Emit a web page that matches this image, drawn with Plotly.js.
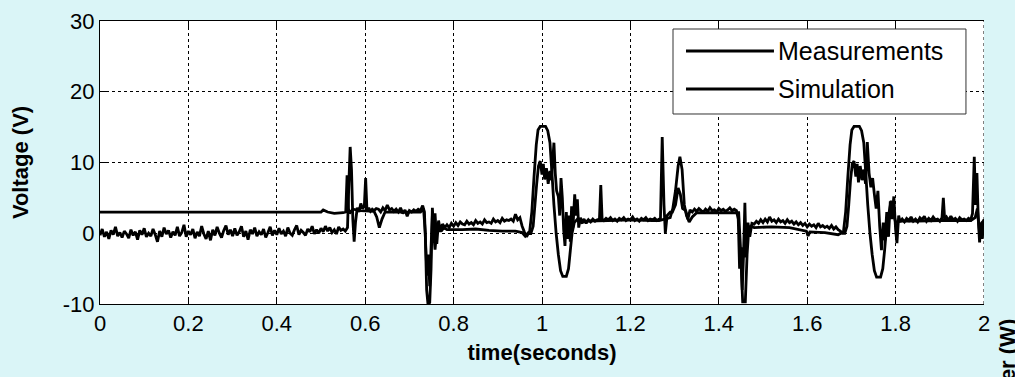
<!DOCTYPE html>
<html>
<head>
<meta charset="utf-8">
<script src="https://cdn.plot.ly/plotly-3.0.1.min.js"></script>
<style>
html,body{margin:0;padding:0;background:#daf5f7;}
#chart{width:1015px;height:377px;}
</style>
</head>
<body>
<div id="chart"></div>
<script>
// ---- Data ----
var xTickVals = [0, 0.2, 0.4, 0.6, 0.8, 1, 1.2, 1.4, 1.6, 1.8, 2];
var xTickText = ["0", "0.2", "0.4", "0.6", "0.8", "1", "1.2", "1.4", "1.6", "1.8", "2"];
var yTickVals = [-10, 0, 10, 20, 30];
var yTickText = ["-10", "0", "10", "20", "30"];
var seriesNames = ["Measurements", "Simulation"];

var measT = [
 0.000,0.005,0.010,0.015,0.020,0.025,0.030,0.035,0.040,0.045,0.050,0.055,0.060,0.065,0.070,0.075,0.080,0.085,0.090,0.095,
 0.100,0.105,0.110,0.115,0.120,0.125,0.130,0.135,0.140,0.145,0.150,0.155,0.160,0.165,0.170,0.175,0.180,0.185,0.190,0.195,
 0.200,0.205,0.210,0.215,0.220,0.225,0.230,0.235,0.240,0.245,0.250,0.255,0.260,0.265,0.270,0.275,0.280,0.285,0.290,0.295,
 0.300,0.305,0.310,0.315,0.320,0.325,0.330,0.335,0.340,0.345,0.350,0.355,0.360,0.365,0.370,0.375,0.380,0.385,0.390,0.395,
 0.400,0.405,0.410,0.415,0.420,0.425,0.430,0.435,0.440,0.445,0.450,0.455,0.460,0.465,0.470,0.475,0.480,0.485,0.490,0.495,
 0.500,0.505,0.510,0.515,0.520,0.525,0.530,0.535,0.540,0.545,0.550,
 0.555,0.560,0.563,0.566,0.569,0.572,0.575,0.578,0.582,0.586,0.590,0.594,0.598,0.601,0.604,0.608,0.612,0.616,0.620,0.625,
 0.630,0.635,0.640,0.645,0.650,0.655,0.660,0.665,0.670,0.675,0.680,0.685,0.690,0.695,0.700,0.705,0.710,0.715,0.720,0.725,
 0.730,0.734,0.737,0.740,0.743,0.746,0.749,0.752,0.755,0.758,0.762,0.766,0.770,0.775,0.780,
 0.785,0.790,0.795,0.800,0.805,0.810,0.815,0.820,0.825,0.830,0.835,0.840,0.845,0.850,0.855,0.860,0.865,0.870,0.875,0.880,
 0.885,0.890,0.895,0.900,0.905,0.910,0.915,0.920,0.925,0.930,0.935,0.940,0.945,0.950,0.955,0.960,0.965,0.970,0.975,
 0.980,0.984,0.988,0.992,0.996,1.000,1.003,1.006,1.010,1.014,1.018,1.021,1.024,1.027,1.030,1.033,1.037,1.040,1.043,1.046,
 1.049,1.052,1.055,1.058,1.061,1.064,1.067,1.070,1.074,1.077,1.080,1.083,1.087,1.090,1.095,1.100,1.105,1.110,1.115,1.120,
 1.125,1.130,1.133,1.136,1.140,1.145,1.150,1.155,1.160,1.165,1.170,1.175,1.180,1.185,1.190,1.195,1.200,1.205,1.210,1.215,
 1.220,1.225,1.230,1.235,1.240,1.245,1.250,1.255,1.260,1.265,1.268,1.272,1.276,1.279,1.283,1.290,1.295,1.302,1.308,1.313,
 1.318,1.325,1.330,1.335,1.340,1.345,1.350,1.355,1.360,1.365,1.370,1.375,1.380,1.385,1.390,1.395,1.400,1.405,1.410,1.415,
 1.420,1.425,1.430,1.435,1.440,1.444,1.447,1.450,1.453,1.456,1.459,1.462,1.466,1.470,1.475,
 1.480,1.485,1.490,1.495,1.500,1.505,1.510,1.515,1.520,1.525,1.530,1.535,1.540,1.545,1.550,1.555,1.560,1.565,1.570,1.575,
 1.580,1.585,1.590,1.595,1.600,1.605,1.610,1.615,1.620,1.625,1.630,1.635,1.640,1.645,1.650,1.655,1.660,1.665,1.670,1.675,
 1.680,1.685,1.690,1.694,1.698,1.702,1.706,1.710,1.713,1.716,1.720,1.724,1.728,1.732,1.736,1.740,1.744,1.748,1.752,1.756,
 1.760,1.764,1.768,1.772,1.776,1.780,1.784,1.788,1.792,1.796,1.800,1.803,1.807,1.810,1.815,1.820,1.825,1.830,1.835,1.840,
 1.845,1.850,1.855,1.860,1.865,1.870,1.875,1.880,1.885,1.890,1.895,1.900,1.905,1.908,1.911,1.915,1.920,1.925,1.930,1.935,
 1.940,1.945,1.950,1.955,1.960,1.965,1.970,1.974,1.978,1.981,1.984,1.987,1.990,1.993,1.996,2.000
];
var measV = [
 -0.3,0.6,-0.5,0.2,-0.8,0.4,-0.2,0.9,-0.4,0.1,-0.6,0.3,-0.1,-0.7,0.5,-0.3,0.2,-0.9,0.4,-0.2,
 0.7,-0.5,0.0,-0.4,0.6,-0.2,-1.2,0.3,-0.5,0.8,-0.1,0.4,-0.6,0.2,-0.3,0.9,-0.4,0.1,1.2,-0.5,
 0.3,-0.2,0.6,-0.7,0.2,-0.4,1.0,-0.1,-0.8,0.3,-1.0,0.5,-0.3,0.9,0.0,-0.6,0.4,1.1,-0.2,0.5,
 -0.4,0.7,-0.3,0.2,1.0,-0.5,0.3,-0.9,0.5,-0.1,0.8,-0.4,0.2,-0.2,0.6,-0.6,0.1,0.9,-0.3,0.4,
 -0.2,0.7,-0.1,0.3,-0.4,0.8,0.0,-0.3,0.5,1.1,-0.2,0.4,0.1,-0.3,0.6,0.2,1.0,-0.1,0.5,0.0,
 0.7,0.2,1.0,0.3,0.8,0.1,0.5,-0.1,0.9,0.4,0.6,
 0.3,0.8,7.0,12.2,9.0,2.0,-1.2,1.5,3.6,3.0,4.2,3.5,3.8,7.8,3.2,3.6,3.1,3.4,3.2,3.5,
 3.4,3.0,3.6,3.2,4.0,3.3,3.5,3.1,3.4,3.0,3.6,2.8,3.3,2.4,3.2,3.0,3.3,3.1,3.4,3.2,
 3.9,3.0,-2.0,-6.0,-3.0,-7.5,-2.0,2.5,-1.0,2.8,-1.5,1.8,0.2,1.3,0.8,
 1.2,0.8,1.4,1.0,1.5,1.1,1.6,1.3,1.2,1.7,1.3,1.5,1.2,1.8,1.4,1.6,1.3,1.9,1.5,1.6,
 1.4,2.0,1.6,1.8,1.5,2.1,1.7,1.9,1.8,2.0,1.7,2.7,1.9,2.2,1.0,0.2,-0.5,0.1,0.0,
 1.0,4.0,7.0,9.5,10.2,8.3,9.8,7.6,9.2,7.0,8.8,7.5,10.0,12.8,8.5,6.0,5.2,2.5,7.8,5.0,
 0.5,-1.8,3.0,-0.8,2.5,-1.2,3.8,0.8,5.5,2.5,4.8,0.8,2.2,1.5,2.0,1.4,1.9,1.6,2.0,1.7,
 1.9,2.0,6.8,2.0,1.8,2.1,1.9,2.2,1.8,2.0,1.7,2.1,1.9,2.2,1.8,2.0,1.9,2.3,1.8,2.0,
 1.7,2.1,1.9,2.2,1.8,2.0,1.9,2.1,1.8,2.0,2.0,13.6,4.0,0.0,2.5,3.0,3.0,4.0,6.4,5.5,
 3.5,3.2,2.0,3.3,3.0,3.4,3.1,3.5,3.2,3.0,3.4,3.1,3.6,3.2,3.3,3.0,3.5,3.2,3.4,3.1,
 3.3,3.6,3.2,3.4,3.2,2.0,-5.0,-2.0,-8.0,-3.0,4.3,-3.4,1.5,-0.5,1.4,
 1.3,1.7,1.4,1.9,1.5,2.0,1.6,2.3,1.7,1.9,1.5,2.0,1.6,1.8,1.4,1.9,1.5,1.7,1.3,1.6,
 1.2,1.5,1.1,1.4,0.9,1.3,1.0,1.2,0.8,1.4,0.9,1.1,0.8,1.0,0.7,1.1,0.6,0.9,0.5,0.3,
 0.0,0.0,1.0,4.0,7.5,9.8,10.2,8.0,9.8,7.2,9.5,7.5,9.0,7.0,12.9,8.5,6.5,7.8,5.5,3.5,
 6.0,1.0,-2.4,1.5,-1.0,3.0,-0.5,4.5,2.0,5.2,0.5,-1.4,2.5,1.6,2.0,1.6,2.1,1.8,2.3,1.7,
 2.0,1.6,2.2,1.9,2.4,1.7,2.1,1.8,2.3,1.9,2.0,1.7,2.2,5.0,2.0,2.3,1.8,2.4,1.9,2.1,
 1.7,2.2,1.9,2.0,1.8,2.1,1.9,2.8,10.8,4.0,8.5,2.0,-1.3,1.5,-0.8,2.0
];

var simT = [
 0.000,0.500,0.505,0.515,0.530,0.550,0.556,0.559,0.562,0.565,0.572,0.590,0.620,0.626,0.632,0.638,0.645,0.700,0.725,0.732,
 0.736,0.739,0.742,0.746,0.749,0.752,0.755,0.758,0.762,0.767,0.772,0.778,0.785,0.820,0.850,0.880,0.910,0.940,0.955,0.962,
 0.968,0.972,0.977,0.982,0.987,0.991,0.996,1.008,1.013,1.018,1.022,1.027,1.032,1.037,1.042,1.047,1.055,1.060,1.064,1.068,
 1.073,1.080,1.090,1.100,1.150,1.200,1.250,1.265,1.290,1.296,1.302,1.308,1.312,1.317,1.322,1.327,1.333,1.340,1.350,1.400,
 1.445,1.449,1.454,1.460,1.464,1.468,1.472,1.480,1.520,1.560,1.598,1.602,1.606,1.640,1.670,1.682,1.687,1.692,1.697,1.701,
 1.706,1.718,1.723,1.728,1.732,1.737,1.742,1.747,1.752,1.757,1.766,1.771,1.775,1.779,1.784,1.790,1.795,1.800,1.810,1.850,
 1.900,1.950,1.970,1.980,1.985,1.990,1.995,2.000
];
var simV = [
 3.0,3.0,3.3,3.0,2.8,2.9,3.0,8.2,3.5,2.8,3.4,3.2,3.1,2.3,0.8,2.0,3.0,3.0,3.0,3.5,
 0.0,-8.0,-10.0,-9.8,-5.0,3.6,0.0,-2.3,0.5,1.2,0.3,0.8,0.5,0.5,0.6,0.4,0.3,0.3,0.1,-0.4,
 0.0,0.2,3.0,8.0,12.5,14.6,15.1,15.1,14.5,12.8,9.0,4.0,0.0,-3.0,-5.3,-6.1,-6.1,-5.0,-2.5,0.0,
 1.5,2.0,1.5,1.7,1.8,1.9,1.8,1.8,2.2,3.5,6.0,9.5,10.8,9.0,4.0,2.5,1.6,2.3,2.9,2.9,
 2.9,-2.0,-9.7,-9.7,-3.0,0.8,1.0,0.8,0.9,0.8,0.3,-0.4,0.2,0.1,-0.2,0.2,3.0,8.0,12.5,14.6,
 15.1,15.1,14.5,12.8,9.0,4.0,0.0,-3.0,-5.3,-6.2,-6.2,-5.0,-2.5,0.5,2.5,4.6,3.0,1.5,1.7,1.7,
 1.8,1.8,1.8,2.2,3.5,0.0,1.5,1.8
];

// ---- Chart ----
var lineStyle = {color: "#000000", width: 2.8, simplify: false};
var traces = [
  {x: measT, y: measV, type: "scatter", mode: "lines", name: seriesNames[0], line: lineStyle, showlegend: false, hoverinfo: "skip"},
  {x: simT, y: simV, type: "scatter", mode: "lines", name: seriesNames[1], line: lineStyle, showlegend: false, hoverinfo: "skip"}
];

var tickFont = {family: "Liberation Sans, Arial, sans-serif", size: 22, color: "#000"};
var titleFont = {family: "Liberation Sans, Arial, sans-serif", size: 22, color: "#000", weight: "bold"};
var legFont = {family: "Liberation Sans, Arial, sans-serif", size: 25, color: "#000"};

var layout = {
  width: 1015, height: 377,
  margin: {l: 100, r: 31, t: 21, b: 73, pad: 0},
  paper_bgcolor: "#daf5f7",
  plot_bgcolor: "#ffffff",
  showlegend: false,
  xaxis: {
    range: [0, 2], tickmode: "array", tickvals: xTickVals, ticktext: xTickText,
    ticks: "inside", ticklen: 6, tickcolor: "#000", tickwidth: 1,
    showline: true, linecolor: "#000", linewidth: 1, mirror: "ticks",
    showgrid: true, gridcolor: "#000", gridwidth: 1, griddash: "3px,3px",
    zeroline: false, tickfont: tickFont,
    title: {text: "time(seconds)", font: titleFont, standoff: 9}
  },
  yaxis: {
    range: [-10, 30], tickmode: "array", tickvals: yTickVals, ticktext: yTickText,
    ticks: "inside", ticklen: 6, tickcolor: "#000", tickwidth: 1,
    showline: true, linecolor: "#000", linewidth: 1, mirror: false,
    showgrid: true, gridcolor: "#000", gridwidth: 1, griddash: "3px,3px",
    zeroline: false, tickfont: tickFont,
    title: {text: "Voltage (V)", font: titleFont, standoff: 28}
  },
  shapes: [
    {type: "line", xref: "x", yref: "paper", x0: 2, x1: 2, y0: 0, y1: 1,
     line: {color: "#000", width: 1, dash: "3px,3px"}, layer: "above"},
    {type: "rect", xref: "paper", yref: "paper", x0: 0.6482, x1: 0.9796, y0: 0.6714, y1: 0.9717,
     fillcolor: "#ffffff", line: {color: "#333", width: 1}, layer: "above"},
    {type: "line", xref: "paper", yref: "paper", x0: 0.6629, x1: 0.7624, y0: 0.894, y1: 0.894,
     line: {color: "#000", width: 2.8}, layer: "above"},
    {type: "line", xref: "paper", yref: "paper", x0: 0.6629, x1: 0.7624, y0: 0.7597, y1: 0.7597,
     line: {color: "#000", width: 2.8}, layer: "above"}
  ],
  annotations: [
    {xref: "paper", yref: "paper", x: 0.7647, y: 0.894, xanchor: "left", yanchor: "middle",
     text: seriesNames[0], showarrow: false, font: legFont},
    {xref: "paper", yref: "paper", x: 0.7647, y: 0.7597, xanchor: "left", yanchor: "middle",
     text: seriesNames[1], showarrow: false, font: legFont},
    {xref: "paper", yref: "paper", x: 1.0265, y: -0.24, xanchor: "center", yanchor: "middle",
     text: "Power (W)", textangle: -90, showarrow: false,
     font: {family: "Liberation Sans, Arial, sans-serif", size: 22, color: "#000", weight: "bold"}}
  ]
};

Plotly.newPlot("chart", traces, layout, {displayModeBar: false, staticPlot: true});
</script>
</body>
</html>
